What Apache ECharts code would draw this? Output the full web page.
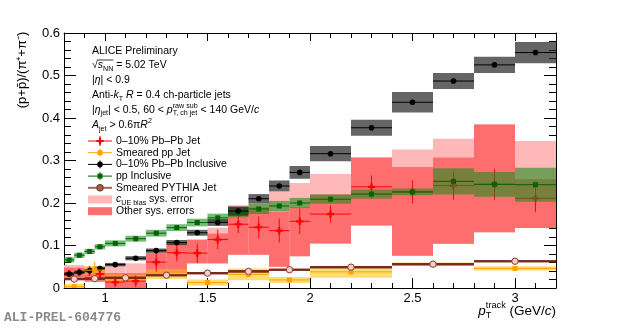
<!DOCTYPE html>
<html><head><meta charset="utf-8">
<script src="https://cdn.jsdelivr.net/npm/echarts@6/dist/echarts.min.js"></script>
<style>html,body{margin:0;padding:0;background:#fff}#c{width:620px;height:328px}</style>
</head><body><div id="c"></div>
<script>
// ---------------- data ----------------
const binLo = [0.8,0.85,0.9,0.95,1.0,1.1,1.2,1.3,1.4,1.5,1.6,1.7,1.8,1.9,2.0,2.2,2.4,2.6,2.8,3.0];
const binHi = [0.85,0.9,0.95,1.0,1.1,1.2,1.3,1.4,1.5,1.6,1.7,1.8,1.9,2.0,2.2,2.4,2.6,2.8,3.0,3.2];
const pbJetVal     = [0.034,0.037,0.040,0.033,0.014,0.016,0.061,0.083,0.082,0.114,0.150,0.143,0.135,0.157,0.174,0.238,0.226,0.241,0.244,0.211];
const pbJetStat    = [0.008,0.010,0.012,0.010,0.012,0.014,0.022,0.020,0.023,0.023,0.021,0.025,0.028,0.030,0.020,0.027,0.027,0.033,0.036,0.032];
const pbJetOtherLo = [0.022,0.022,0.015,0.015,0.000,0.000,0.030,0.035,0.058,0.058,0.078,0.078,0.050,0.075,0.105,0.147,0.076,0.104,0.131,0.141];
const pbJetOtherHi = [0.048,0.048,0.045,0.045,0.035,0.035,0.082,0.105,0.113,0.128,0.190,0.190,0.180,0.190,0.220,0.307,0.285,0.307,0.385,0.256];
const pbJetCueHi   = [0.054,0.054,0.050,0.050,0.058,0.058,0.090,0.110,0.115,0.142,0.195,0.200,0.226,0.247,0.268,0.307,0.326,0.351,0.385,0.346];
const incPbVal = [0.033,0.037,0.041,0.046,0.055,0.070,0.088,0.107,0.130,0.154,0.181,0.210,0.240,0.272,0.316,0.377,0.437,0.487,0.525,0.554];
const incPbSys = [0.004,0.004,0.004,0.004,0.004,0.005,0.005,0.006,0.007,0.008,0.011,0.011,0.013,0.015,0.018,0.019,0.024,0.019,0.019,0.025];
const incPpVal = [0.066,0.077,0.086,0.097,0.105,0.116,0.129,0.142,0.154,0.165,0.178,0.186,0.193,0.200,0.209,0.221,0.226,0.251,0.244,0.243];
const incPpSys = [0.006,0.006,0.006,0.006,0.007,0.007,0.008,0.008,0.009,0.010,0.012,0.012,0.012,0.012,0.011,0.011,0.008,0.031,0.029,0.040];
const coarseLo = [0.8,0.9,1.0,1.2,1.4,1.6,1.8,2.0,2.4,2.8];
const coarseHi = [0.9,1.0,1.2,1.4,1.6,1.8,2.0,2.4,2.8,3.2];
const smPpVal  = [0.003,0.042,0.023,0.033,0.013,0.032,0.019,0.038,0.056,0.046];
const smPpStat = [0.003,0.020,0.003,0.003,0.003,0.004,0.003,0.006,0.006,0.005];
const smPpSys  = [0.007,0.010,0.009,0.012,0.007,0.014,0.007,0.014,0.004,0.005];
const pythiaVal = [0.021,0.022,0.024,0.030,0.035,0.039,0.043,0.049,0.056,0.063];
const xMajorTicks = [1,1.5,2,2.5,3];
const xMinorTicks = [0.8,0.9,1.0,1.1,1.2,1.3,1.4,1.5,1.6,1.7,1.8,1.9,2.0,2.1,2.2,2.3,2.4,2.5,2.6,2.7,2.8,2.9,3.0,3.1,3.2];
const legendLabels = ['0–10% Pb–Pb Jet','Smeared pp Jet','0–10% Pb–Pb Inclusive','pp Inclusive','Smeared PYTHIA Jet','sys. error','Other sys. errors'];

// ---------------- helpers ----------------
const FONT = '"Liberation Sans", Arial, Helvetica, sans-serif';
const C = {
  red:'#ff0000', pink:'#ffb8b8', redBox:'#ff6e6e', orange:'#ffa200', orangeBox:'rgba(255,190,0,0.55)',
  black:'#000', blackBox:'rgba(35,35,35,0.7)', green:'#006400', greenBox:'rgba(30,140,30,0.6)',
  brown:'#7a2a1c', pyFill:'#f2cfc8'
};
function marker(kind, cx, cy, o) {
  if (kind === 'circle') return {type:'circle', shape:{cx, cy, r:o.r||2.8}, style:{fill:o.fill||o.color, stroke:o.stroke||o.color, lineWidth:o.mlw||0}};
  if (kind === 'square') { const s=o.s||5; return {type:'rect', shape:{x:cx-s/2, y:cy-s/2, width:s, height:s}, style:{fill:o.color}}; }
  if (kind === 'plus') { const a=3.6, t=1.1; return {type:'polygon', shape:{points:[[cx-t,cy-a],[cx+t,cy-a],[cx+t,cy-t],[cx+a,cy-t],[cx+a,cy+t],[cx+t,cy+t],[cx+t,cy+a],[cx-t,cy+a],[cx-t,cy+t],[cx-a,cy+t],[cx-a,cy-t],[cx-t,cy-t]]}, style:{fill:o.color}}; }
  return {type:'group', children:[]};
}
function boxSeries(x0s, x1s, lo, hi, fill, z) {
  return {type:'custom', z, clip:true, silent:true, xAxisIndex:0, yAxisIndex:0,
    data: lo.map((l,i)=>[x0s[i], x1s[i], l, hi[i]]), encode:{x:[0,1], y:[2,3]},
    renderItem(params, api) {
      const a = api.coord([api.value(0), api.value(3)]), b = api.coord([api.value(1), api.value(2)]);
      return {type:'rect', shape:{x:a[0], y:a[1], width:b[0]-a[0], height:b[1]-a[1]}, style:{fill}};
    }};
}
function pointSeries(x0s, x1s, ys, err, o, z) {
  return {type:'custom', z, clip:true, silent:true, xAxisIndex:0, yAxisIndex:0,
    data: ys.map((y,i)=>[(x0s[i]+x1s[i])/2, x0s[i], x1s[i], y, y-(err?err[i]:0), y+(err?err[i]:0)]),
    encode:{x:[1,2], y:[4,5]},
    renderItem(params, api) {
      const xc=api.value(0), y=api.value(3);
      const pc=api.coord([xc,y]), pl=api.coord([api.value(1),y]), pr=api.coord([api.value(2),y]);
      const pt=api.coord([xc,api.value(5)]), pb=api.coord([xc,api.value(4)]);
      const ch=[{type:'line', shape:{x1:pl[0],y1:pc[1],x2:pr[0],y2:pc[1]}, style:{stroke:o.lineColor||o.color, lineWidth:o.hw||1}}];
      if (pb[1]-pt[1] > 0.5) ch.push({type:'line', shape:{x1:pc[0],y1:pt[1],x2:pc[0],y2:pb[1]}, style:{stroke:o.color, lineWidth:1}});
      ch.push(marker(o.marker, pc[0], pc[1], o));
      return {type:'group', children:ch};
    }};
}
const ctx = document.createElement('canvas').getContext('2d');
function fontStr(size, italic, bold, fam) { return (italic?'italic ':'')+(bold?'bold ':'')+size+'px '+(fam||FONT); }
function tw(t, size, italic) { ctx.font = fontStr(size, italic); return ctx.measureText(t).width; }
function txt(x, y, t, size, italic, extra) {
  return Object.assign({type:'text', x, y, silent:true, z:100,
    style:{text:t, font:fontStr(size, italic), fill:'#000', textAlign:'left', textVerticalAlign:'middle'}}, extra||{});
}
function lineWidth(parts, base) {
  let w=0;
  for (const p of parts) {
    if (p.stack) { const s=base*0.68; w+=Math.max(tw(p.sup,s), tw(p.sub,s)); continue; }
    const size = (p.k==='sub'||p.k==='sup') ? base*0.68 : base;
    w += tw(p.t, size, p.i);
  }
  return w;
}
function richLine(x, y, parts, base) {
  const els=[]; let cx=x;
  for (const p of parts) {
    if (p.stack) {
      const s=base*0.68;
      els.push(txt(cx, y-base*0.4, p.sup, s, false));
      els.push(txt(cx, y+base*0.33, p.sub, s, false));
      cx += Math.max(tw(p.sup,s), tw(p.sub,s));
      continue;
    }
    const size = (p.k==='sub'||p.k==='sup') ? base*0.68 : base;
    const dy = p.k==='sub' ? base*0.33 : (p.k==='sup' ? -base*0.38 : 0);
    els.push(txt(cx, y+dy, p.t, size, p.i));
    cx += tw(p.t, size, p.i);
  }
  return els;
}

// ---------------- graphics (texts, legend) ----------------
const B = 10.5, TX = 92;
const g = [];
g.push(...richLine(TX, 51, [{t:'ALICE Preliminary'}], B));
{
  const parts = [{t:'√'}, {t:'s', i:true}, {k:'sub', t:'NN'}, {t:' = 5.02 TeV'}];
  g.push(...richLine(TX, 65.5, parts, B));
  const x1 = TX + tw('√', B) - 0.5, x2 = TX + tw('√', B) + tw('s', B, true) + tw('NN', B*0.68);
  g.push({type:'line', silent:true, z:100, shape:{x1, y1:60, x2, y2:60}, style:{stroke:'#000', lineWidth:0.8}});
}
g.push(...richLine(TX, 80.5, [{t:'|'}, {t:'η', i:true}, {t:'| < 0.9'}], B));
g.push(...richLine(TX, 95.5, [{t:'Anti-'}, {t:'k', i:true}, {k:'sub', t:'T'}, {t:' '}, {t:'R', i:true}, {t:' = 0.4 ch-particle jets'}], B));
g.push(...richLine(TX, 110, [{t:'|'}, {t:'η', i:true}, {k:'sub', t:'jet'}, {t:'| < 0.5, 60 < '}, {t:'p', i:true}, {stack:true, sup:'raw sub', sub:'T, ch jet'}, {t:' < 140 GeV/'}, {t:'c', i:true}], B));
g.push(...richLine(TX, 125.5, [{t:'A', i:true}, {k:'sub', t:'jet'}, {t:' > 0.6π'}, {t:'R', i:true}, {k:'sup', t:'2'}], B));

const LY = [141, 152.7, 164.4, 176.1, 187.8, 199.5, 211.2];
const LX0 = 88, LX1 = 112, LXC = 100, LT = 116;
function legLine(y, color, w) { return {type:'line', silent:true, z:100, shape:{x1:LX0, y1:y, x2:LX1, y2:y}, style:{stroke:color, lineWidth:w||1}}; }
function legVert(y, color, h) { return {type:'line', silent:true, z:100, shape:{x1:LXC, y1:y-h, x2:LXC, y2:y+h}, style:{stroke:color, lineWidth:1}}; }
function zm(el) { el.z = 101; el.silent = true; return el; }
g.push(legLine(LY[0], C.red), legVert(LY[0], C.red, 5), zm(marker('plus', LXC, LY[0], {color:C.red})));
g.push(legLine(LY[1], C.orange), legVert(LY[1], C.orange, 4), zm(marker('square', LXC, LY[1], {color:C.orange})));
g.push(legLine(LY[2], C.black), legVert(LY[2], C.black, 4), zm(marker('circle', LXC, LY[2], {color:C.black})));
g.push(legLine(LY[3], C.green), legVert(LY[3], C.green, 4), zm(marker('square', LXC, LY[3], {color:C.green})));
g.push(legLine(LY[4], '#a8625a', 2), zm(marker('circle', LXC, LY[4], {fill:'#a65a52', stroke:'#6b2a20', mlw:1, r:3.3})));
g.push({type:'rect', silent:true, z:100, shape:{x:LX0, y:LY[5]-4, width:LX1-LX0, height:8}, style:{fill:C.pink}});
g.push({type:'rect', silent:true, z:100, shape:{x:LX0, y:LY[6]-4, width:LX1-LX0, height:8}, style:{fill:C.redBox}});
for (let i=0;i<7;i++) {
  if (i===5) g.push(...richLine(LT, LY[i], [{t:'c', i:true}, {k:'sub', t:'UE bias'}, {t:' '+legendLabels[i]}], B));
  else g.push(...richLine(LT, LY[i], [{t:legendLabels[i]}], B));
}
// axis titles
g.push({type:'text', x:22, y:70, rotation:Math.PI/2, silent:true, z:100,
  style:{text:'(p+p\u0304)/(π\u207A+π\u207B)', font:fontStr(13), fill:'#000', textAlign:'center', textVerticalAlign:'middle'}});
{
  const base = 13.5;
  const parts = [{t:'p', i:true}, {stack:true, sup:'track', sub:'T'}, {t:' (GeV/'}, {t:'c', i:true}, {t:')'}];
  const w = lineWidth(parts, base);
  g.push(...richLine(556 - w, 311, parts, base));
}
g.push({type:'text', x:4, y:318, silent:true, z:100,
  style:{text:'ALI-PREL-604776', font:fontStr(13, false, true, '"Liberation Mono", "DejaVu Sans Mono", monospace'), fill:'#8a8a8a', textAlign:'left', textVerticalAlign:'middle'}});

// ---------------- axes ----------------
const axCommon = {type:'value', splitLine:{show:false}, axisLine:{onZero:false, lineStyle:{color:'#000', width:1}}};
function xAx(pos, ticks, len, showLine, labels) {
  return Object.assign({}, axCommon, {min:0.8, max:3.2, position:pos,
    axisLine:{show:showLine, onZero:false, lineStyle:{color:'#000', width:1}},
    axisTick:{show:true, inside:true, length:len, customValues:ticks, lineStyle:{color:'#000', width:1}},
    axisLabel: labels ? {show:true, customValues:ticks, fontSize:13, fontFamily:FONT, color:'#000', margin:4} : {show:false}});
}
function yAx(pos, labels) {
  return Object.assign({}, axCommon, {min:0, max:0.6, interval:0.1, position:pos,
    axisLine:{show:true, onZero:false, lineStyle:{color:'#000', width:1}},
    axisTick:{show:true, inside:true, length:12, lineStyle:{color:'#000', width:1}},
    minorTick:{show:true, splitNumber:5, length:7, lineStyle:{color:'#000', width:1}},
    minorSplitLine:{show:false},
    axisLabel: labels ? {show:true, fontSize:13, fontFamily:FONT, color:'#000', margin:4} : {show:false}});
}

// ---------------- series ----------------
const series = [
  boxSeries(binLo, binHi, pbJetOtherLo, pbJetCueHi, C.pink, 1),
  boxSeries(binLo, binHi, pbJetOtherLo, pbJetOtherHi, C.redBox, 2),
  boxSeries(coarseLo, coarseHi, smPpVal.map((v,i)=>v-smPpSys[i]), smPpVal.map((v,i)=>v+smPpSys[i]), C.orangeBox, 3),
  pointSeries(coarseLo, coarseHi, pythiaVal, null, {color:C.brown, hw:2.2, marker:'none'}, 4),
  pointSeries(binLo, binHi, pbJetVal, pbJetStat, {color:C.red, marker:'plus'}, 5),
  boxSeries(binLo, binHi, incPpVal.map((v,i)=>v-incPpSys[i]), incPpVal.map((v,i)=>v+incPpSys[i]), C.greenBox, 6),
  boxSeries(binLo, binHi, incPbVal.map((v,i)=>v-incPbSys[i]), incPbVal.map((v,i)=>v+incPbSys[i]), C.blackBox, 7),
  pointSeries(binLo, binHi, incPpVal, null, {color:C.green, marker:'square', s:5}, 8),
  pointSeries(binLo, binHi, incPbVal, null, {color:C.black, marker:'circle', r:2.8}, 9),
  pointSeries(coarseLo, coarseHi, smPpVal, smPpStat, {color:C.orange, marker:'square', s:5}, 10),
  pointSeries(coarseLo, coarseHi, pythiaVal, null, {color:C.brown, hw:2.2, marker:'circle', fill:C.pyFill, stroke:'#8b3a2a', mlw:1, r:3.2}, 11)
];

const chart = echarts.init(document.getElementById('c'), null, {renderer:'canvas'});
chart.setOption({
  animation:false,
  backgroundColor:'#fff',
  grid:{left:64, right:64, top:33, bottom:40, containLabel:false},
  xAxis:[xAx('bottom', xMajorTicks, 10, true, true), xAx('bottom', xMinorTicks, 5, false, false),
         xAx('top', xMajorTicks, 8, true, false), xAx('top', xMinorTicks, 5, false, false)],
  yAxis:[yAx('left', true), yAx('right', false)],
  series,
  graphic:{elements:g}
});
</script></body></html>
